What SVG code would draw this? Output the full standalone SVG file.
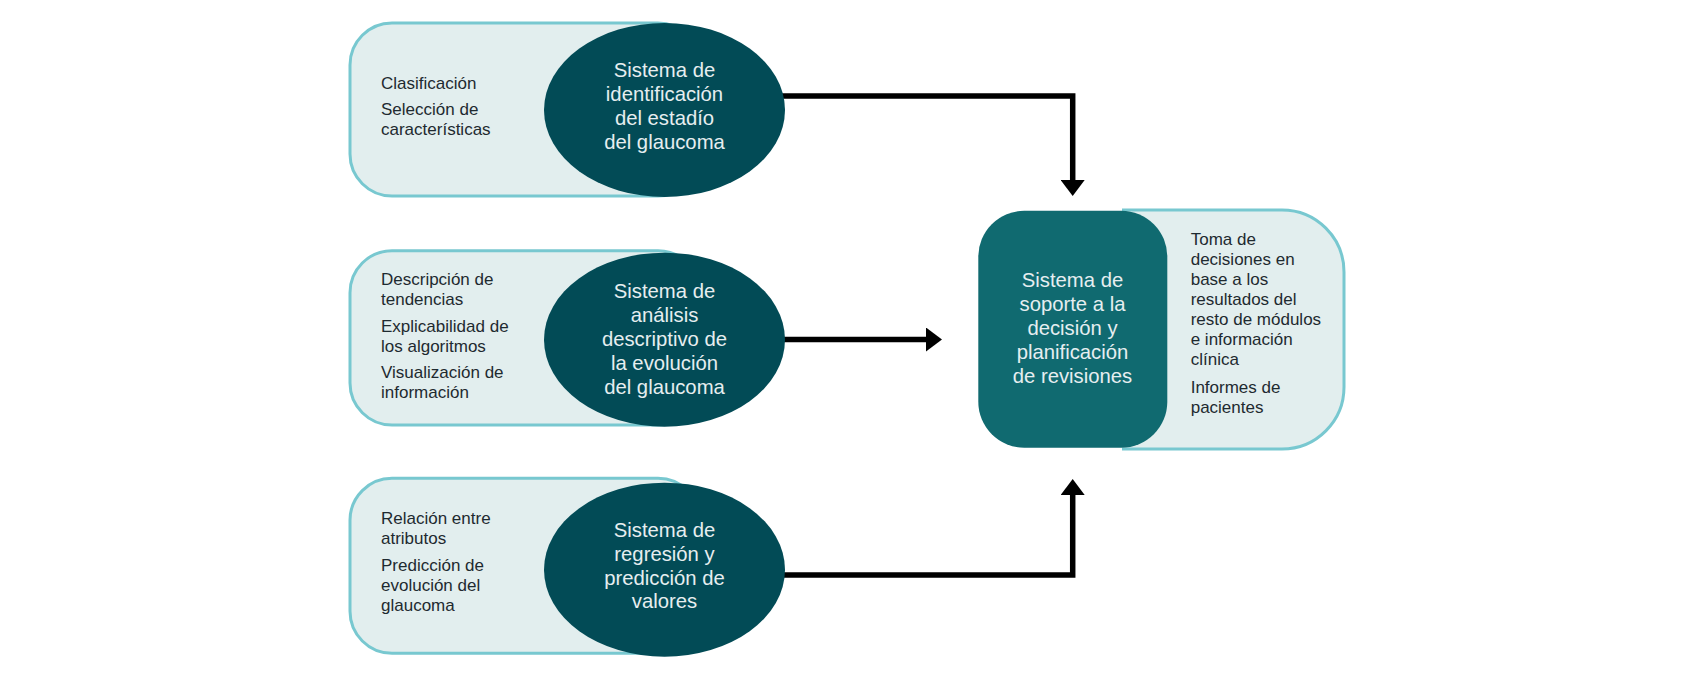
<svg xmlns="http://www.w3.org/2000/svg" width="1700" height="675" viewBox="0 0 1700 675">
<style>
.box{fill:#e2eeee;stroke:#78c8d0;stroke-width:3}
.ell{fill:#024b56}
.dark{fill:#106a70}
.t{font-family:"Liberation Sans",Arial,Helvetica,sans-serif;font-size:17px;fill:#1e2a30}
.w{font-family:"Liberation Sans",Arial,Helvetica,sans-serif;font-size:20.3px;fill:#e6eef0;text-anchor:middle}
.con{fill:none;stroke:#000;stroke-width:5.5;stroke-linejoin:miter}
</style>
<defs>
<marker id="ah" viewBox="0 0 16 24" refX="0" refY="12" markerWidth="16" markerHeight="24" markerUnits="userSpaceOnUse" orient="auto">
<path d="M0,0 L16,12 L0,24 Z" fill="#000"/>
</marker>
</defs>
<rect width="1700" height="675" fill="#fff"/>
<g id="connectors">
<path class="con" d="M782,96 H1072.7 V180" marker-end="url(#ah)"/>
<path class="con" d="M782,339.5 H926" marker-end="url(#ah)"/>
<path class="con" d="M782,575 H1072.7 V495" marker-end="url(#ah)"/>
</g>
<g id="node1">
<rect class="box" x="350" y="23" width="350" height="173" rx="42"/>
<ellipse class="ell" cx="664.5" cy="110" rx="120.5" ry="87"/>
<text class="t" x="381" y="89">Clasificación</text>
<text class="t" x="381" y="115">Selección de</text>
<text class="t" x="381" y="135">características</text>
<text class="w" x="664.5" y="77">Sistema de</text>
<text class="w" x="664.5" y="101">identificación</text>
<text class="w" x="664.5" y="125">del estadío</text>
<text class="w" x="664.5" y="148.5">del glaucoma</text>
</g>
<g id="node2">
<rect class="box" x="350" y="250.7" width="350" height="174.3" rx="42"/>
<ellipse class="ell" cx="664.5" cy="339.7" rx="120.5" ry="87"/>
<text class="t" x="381" y="285">Descripción de</text>
<text class="t" x="381" y="305">tendencias</text>
<text class="t" x="381" y="331.7">Explicabilidad de</text>
<text class="t" x="381" y="351.7">los algoritmos</text>
<text class="t" x="381" y="378.3">Visualización de</text>
<text class="t" x="381" y="398.3">información</text>
<text class="w" x="664.5" y="298.3">Sistema de</text>
<text class="w" x="664.5" y="322">análisis</text>
<text class="w" x="664.5" y="346">descriptivo de</text>
<text class="w" x="664.5" y="370">la evolución</text>
<text class="w" x="664.5" y="394.3">del glaucoma</text>
</g>
<g id="node3">
<rect class="box" x="350" y="478.3" width="350" height="175" rx="42"/>
<ellipse class="ell" cx="664.5" cy="569.7" rx="120.5" ry="87"/>
<text class="t" x="381" y="524.3">Relación entre</text>
<text class="t" x="381" y="544.3">atributos</text>
<text class="t" x="381" y="571">Predicción de</text>
<text class="t" x="381" y="591">evolución del</text>
<text class="t" x="381" y="611">glaucoma</text>
<text class="w" x="664.5" y="536.7">Sistema de</text>
<text class="w" x="664.5" y="561">regresión y</text>
<text class="w" x="664.5" y="585">predicción de</text>
<text class="w" x="664.5" y="608.3">valores</text>
</g>
<g id="node4">
<path class="box" d="M1122,210 H1282 A62,62 0 0 1 1344,272 V387 A62,62 0 0 1 1282,449 H1122"/>
<rect class="dark" x="978.3" y="210.7" width="189" height="237" rx="46"/>
<text class="w" x="1072.5" y="287.3">Sistema de</text>
<text class="w" x="1072.5" y="310.7">soporte a la</text>
<text class="w" x="1072.5" y="335">decisión y</text>
<text class="w" x="1072.5" y="359.3">planificación</text>
<text class="w" x="1072.5" y="383.3">de revisiones</text>
<text class="t" x="1190.7" y="245">Toma de</text>
<text class="t" x="1190.7" y="265">decisiones en</text>
<text class="t" x="1190.7" y="285">base a los</text>
<text class="t" x="1190.7" y="305">resultados del</text>
<text class="t" x="1190.7" y="325">resto de módulos</text>
<text class="t" x="1190.7" y="345">e información</text>
<text class="t" x="1190.7" y="365">clínica</text>
<text class="t" x="1190.7" y="392.7">Informes de</text>
<text class="t" x="1190.7" y="412.7">pacientes</text>
</g>
</svg>
